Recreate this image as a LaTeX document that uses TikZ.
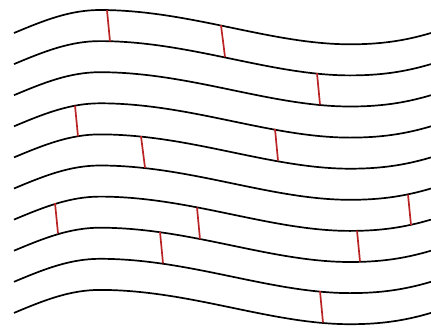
\documentclass[tikz,border=0pt]{standalone}
\definecolor{brickred}{RGB}{185,35,35}
\begin{document}
\begin{tikzpicture}[x=1pt,y=-1pt,
  wave/.style={line width=1.7pt, draw=black},
  brick/.style={line width=1.7pt, draw=brickred}]
\useasboundingbox (0,0) rectangle (431,327);
\foreach \k in {0,...,9} {
  \draw[wave, shift={(0,\k*31.1)}]
    (14,33) .. controls (44,20.4) and (70,10) .. (100,10)
            .. controls (190,10) and (270,44.3) .. (350,44.3)
            .. controls (380,44.3) and (404,41) .. (431,33);
}
\foreach \i/\xa/\ya/\xb/\yb in {
  1/107/10.2/110/41.4,
  2/221/25.2/225/57,
  3/317/73.2/320/104.5,
  4/75/105.6/78/136.4,
  5/141/136.2/145/167.8,
  6/275/128.9/278/160.6,
  7/408/194.7/411/225,
  8/55/203.1/58/233.3,
  9/197/207.5/200/239.2,
  10/160/231.8/163/263.3,
  11/357/230.6/360/261.5,
  12/320/291.2/323/322.5} {
  \coordinate (t\i) at (\xa,\ya);
  \coordinate (b\i) at (\xb,\yb);
  \draw[brick] (t\i) -- (b\i);
}
\end{tikzpicture}
\end{document}
